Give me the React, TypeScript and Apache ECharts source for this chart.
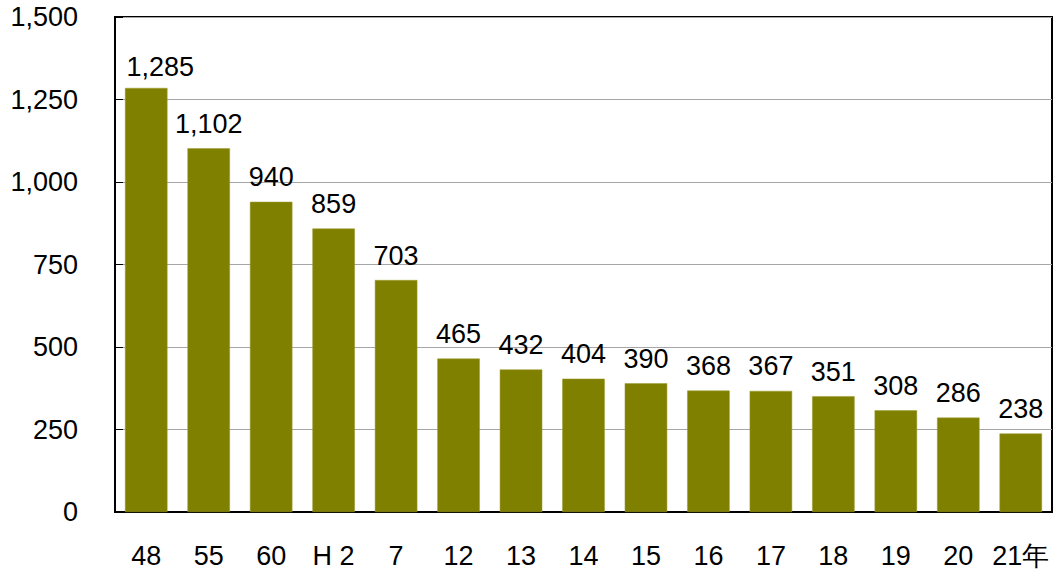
import React, { useEffect, useRef } from "react";
import * as echarts from "echarts";

const categories = ["48", "55", "60", "H 2", "7", "12", "13", "14", "15", "16", "17", "18", "19", "20", "21年"];
const values = [1285, 1102, 940, 859, 703, 465, 432, 404, 390, 368, 367, 351, 308, 286, 238];
const yTicks = { min: 0, max: 1500, interval: 250 };

export default function App() {
  const ref = useRef<HTMLDivElement>(null);
  useEffect(() => {
    const chart = echarts.init(ref.current!, undefined, { renderer: "svg" });
    const font = "Liberation Sans, Arial, sans-serif";
    const seriesData = values.map((v, i) =>
      i === 0 ? { value: v, label: { offset: [14, 4] } } : v
    );
    chart.setOption({
      animation: false,
      backgroundColor: "#fff",
      grid: {
        left: 115,
        top: 17,
        right: 3,
        bottom: 62,
        show: true,
        borderColor: "#000",
        borderWidth: 2,
      },
      xAxis: {
        type: "category",
        data: categories,
        axisLine: { lineStyle: { color: "#000", width: 2 } },
        axisTick: { inside: true, length: 10, lineStyle: { color: "#000", width: 1 } },
        axisLabel: { interval: 0, color: "#000", fontSize: 27, fontFamily: font, margin: 30 },
      },
      yAxis: {
        type: "value",
        min: yTicks.min,
        max: yTicks.max,
        interval: yTicks.interval,
        axisLine: { show: true, lineStyle: { color: "#000", width: 2 } },
        axisTick: { show: true, inside: true, length: 8, lineStyle: { color: "#000" } },
        axisLabel: {
          color: "#000",
          fontSize: 27,
          fontFamily: font,
          margin: 37,
          formatter: (v: number) => v.toLocaleString("en-US"),
        },
        splitLine: { lineStyle: { color: "#a6a6a6", width: 1 } },
      },
      series: [
        {
          type: "bar",
          data: seriesData,
          barCategoryGap: "32%",
          itemStyle: { color: "#808000", borderColor: "#9a9a30", borderWidth: 0.5 },
          label: {
            show: true,
            position: "top",
            distance: 11,
            color: "#000",
            fontSize: 27,
            fontFamily: font,
            formatter: (p: any) => Number(p.value).toLocaleString("en-US"),
          },
        },
      ],
    });
    return () => chart.dispose();
  }, []);
  return (
    <div
      ref={ref}
      style={{ position: "absolute", left: 0, top: 0, width: 1055, height: 574, background: "#fff" }}
    />
  );
}
